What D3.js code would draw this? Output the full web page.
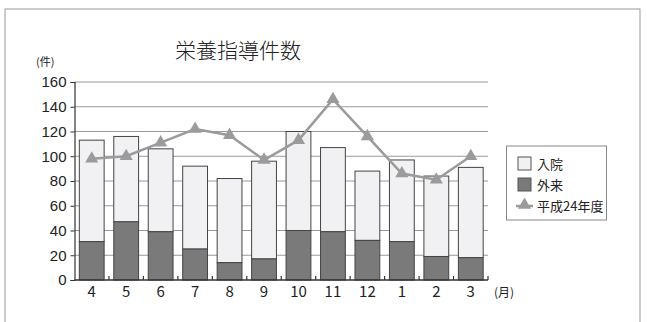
<!DOCTYPE html>
<html><head><meta charset="utf-8">
<script src="https://cdn.jsdelivr.net/npm/d3@7"></script>
<style>
html,body{margin:0;padding:0;background:#fff;}
svg{display:block;}
text{font-family:"Liberation Sans Narrow","Noto Sans CJK JP",sans-serif;fill:#222;}
.jp{font-family:"Noto Sans CJK JP",sans-serif;}
</style></head>
<body>
<svg id="c" width="647" height="322"></svg>
<script>
const months = ["4","5","6","7","8","9","10","11","12","1","2","3"];
const totals = [113,116,106,92,82,96,120,107,88,97,84,91];
const outpatient = [31,47,39,25,14,17,40,39,32,31,19,18];
const prevYear = [98,100,111,122,117,97,113,146,116,86,81,100];
const yTicks = [0,20,40,60,80,100,120,140,160];

(function(){
const svg = d3.select("#c");
svg.append("rect").attr("x",5).attr("y",9).attr("width",635).attr("height",330)
  .attr("fill","none").attr("stroke","#999").attr("stroke-width",1);

const pL=74.5,pR=488,pT=82,pB=280;
const x = d3.scaleBand().domain(months).range([pL,pR]).padding(0);
const y = d3.scaleLinear().domain([0,160]).range([pB,pT]);
const bw = x.bandwidth()*0.72;

svg.append("g").selectAll("line").data(yTicks.filter(d=>d>0)).join("line")
  .attr("x1",pL).attr("x2",pR).attr("y1",d=>y(d)).attr("y2",d=>y(d))
  .attr("stroke","#9a9a9a").attr("stroke-width",1);

const ya = svg.append("g").attr("transform",`translate(${pL},0)`)
  .call(d3.axisLeft(y).tickValues(yTicks).tickSize(4).tickPadding(4));
ya.select(".domain").attr("stroke","#333").attr("stroke-width",1.2);
ya.selectAll(".tick line").attr("stroke","#333");
ya.selectAll("text").attr("font-size",15).attr("fill","#222")
  .style("font-family",'"Liberation Sans Narrow",sans-serif');

const g = svg.append("g");
months.forEach((m,i)=>{
  const cx = x(m)+x.bandwidth()/2;
  g.append("rect").attr("x",cx-bw/2).attr("y",y(totals[i])).attr("width",bw)
    .attr("height",y(outpatient[i])-y(totals[i]))
    .attr("fill","#f1f1f3").attr("stroke","#444").attr("stroke-width",1);
  g.append("rect").attr("x",cx-bw/2).attr("y",y(outpatient[i])).attr("width",bw)
    .attr("height",y(0)-y(outpatient[i]))
    .attr("fill","#7a7a7a").attr("stroke","#444").attr("stroke-width",1);
});

const xa = svg.append("g").attr("transform",`translate(0,${pB})`);
xa.append("line").attr("x1",pL).attr("x2",pR).attr("stroke","#333").attr("stroke-width",1.5);
const bounds = months.map(m=>x(m)).concat([pR]).slice(1);
xa.selectAll("line.tk").data(bounds).join("line").attr("class","tk")
  .attr("x1",d=>d).attr("x2",d=>d).attr("y1",0).attr("y2",-4).attr("stroke","#333").attr("stroke-width",1.2);
xa.selectAll("text").data(months).join("text")
  .attr("x",d=>x(d)+x.bandwidth()/2).attr("y",17).attr("text-anchor","middle")
  .attr("font-size",15).text(d=>d);
svg.append("text").attr("class","jp").attr("x",494).attr("y",297).attr("font-size",12).text("(月)");

const line = d3.line().x((d,i)=>x(months[i])+x.bandwidth()/2).y(d=>y(d));
svg.append("path").datum(prevYear).attr("d",line).attr("fill","none")
  .attr("stroke","#9b9b9b").attr("stroke-width",2.5);
const tri = d3.symbol().type(d3.symbolTriangle).size(75);
svg.append("g").selectAll("path").data(prevYear).join("path")
  .attr("d",tri).attr("transform",(d,i)=>`translate(${x(months[i])+x.bandwidth()/2},${y(d)})`)
  .attr("fill","#9b9b9b");

svg.append("text").attr("class","jp").attr("x",238).attr("y",58).attr("text-anchor","middle")
  .attr("font-size",21).attr("font-weight",300).attr("fill","#333").text("栄養指導件数");
svg.append("text").attr("class","jp").attr("x",36).attr("y",66).attr("font-size",11).attr("fill","#333").text("(件)");

const lg = svg.append("g");
lg.append("rect").attr("x",506.5).attr("y",146).attr("width",100).attr("height",74)
  .attr("fill","#fff").attr("stroke","#888");
lg.append("rect").attr("x",518).attr("y",157).attr("width",13).attr("height",13)
  .attr("fill","#f1f1f3").attr("stroke","#555");
lg.append("rect").attr("x",518).attr("y",178).attr("width",13).attr("height",13)
  .attr("fill","#7a7a7a").attr("stroke","#555");
lg.append("line").attr("x1",516).attr("x2",533).attr("y1",206).attr("y2",206)
  .attr("stroke","#9b9b9b").attr("stroke-width",2.5);
lg.append("path").attr("d",tri).attr("transform","translate(524.5,205)").attr("fill","#9b9b9b");
[["入院",164],["外来",185],["平成24年度",206]].forEach(([t,yy])=>{
  lg.append("text").attr("class","jp").attr("x",537).attr("y",yy).attr("dy","0.35em")
    .attr("font-size",13).attr("fill","#333").text(t);
});
})();
</script>
</body></html>
